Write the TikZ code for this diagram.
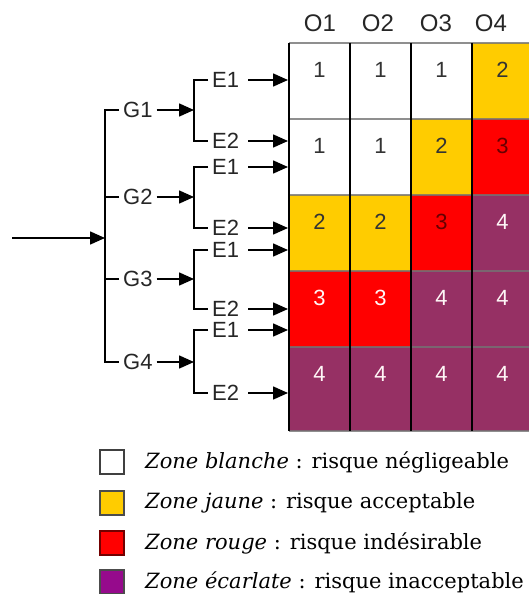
\documentclass[tikz,border=0pt]{standalone}
\usepackage{fontspec}
\newfontfamily\lblfont{Liberation Sans}
\newfontfamily\legfont{DejaVu Serif}
\usetikzlibrary{arrows.meta}

\definecolor{zone1}{RGB}{255,255,255}
\definecolor{zone2}{RGB}{255,204,0}
\definecolor{zone3}{RGB}{255,0,0}
\definecolor{zone4}{RGB}{150,48,100}
\definecolor{zonepurple}{RGB}{150,10,140}

\tikzset{
  lbl/.style={font=\lblfont\fontsize{22}{23}\selectfont,text=black!85,
    inner xsep=4pt,inner ysep=0pt,anchor=west},
  head/.style={font=\lblfont\fontsize{24}{26}\selectfont,text=black!85},
  arr/.style={line width=1.6pt,-{Triangle[length=15pt,width=13pt]}},
  branch/.style={line width=1.6pt},
  num/.style={font=\lblfont\fontsize{22}{24}\selectfont},
  dk/.style={text=black!80},
  dr/.style={text=red!40!black},
  lt/.style={text=white!88!pink},
  hline/.style={line width=2.5pt,black!55,opacity=.8},
  vline/.style={line width=1.8pt,black},
  legbox/.style={minimum size=24pt,inner sep=0pt,line width=1.6pt},
  legtxt/.style={font=\legfont\fontsize{21}{24}\selectfont,anchor=west,inner sep=0pt}
}

\begin{document}
\begin{tikzpicture}[x=1pt,y=-1pt]
  \useasboundingbox (0,0) rectangle (529,594);

  % Risk matrix
  \foreach \row [count=\r] in {{1/dk,1/dk,1/dk,2/dk},{1/dk,1/dk,2/dk,3/dr},
      {2/dk,2/dk,3/dr,4/lt},{3/lt,3/lt,4/lt,4/lt},{4/lt,4/lt,4/lt,4/lt}}{
    \foreach \v/\s [count=\c] in \row {
      \fill[zone\v] ({289+61*(\c-1)},{43+76*(\r-1)}) rectangle ++(61,84);
      \node[num,\s] (n\r\c) at ({319.5+61*(\c-1)},{70+76*(\r-1)}) {\v};
    }
  }
  \foreach \y in {43,119,195,271,347,431}
    \draw[hline] (289,\y) -- (529,\y);
  \foreach \x in {289,350,411,472}
    \draw[vline] (\x,43) -- (\x,431);

  % Column heads
  \foreach \x [count=\c] in {320,378,436,491}
    \node[head] (o\c) at (\x,23) {O\c};

  % Tree
  \coordinate (in) at (12,238);
  \coordinate (trunk) at (105,238);
  \coordinate (gl) at (288,0);
  \draw[arr] (in) -- (trunk);
  \foreach \i/\gy/\ea/\eb in {1/110/80/141,2/197/167/228,3/279/250/309,4/362/330/393}{
    \node[lbl] (g\i) at (119,\gy) {G\i};
    \coordinate (b\i) at (194,\gy);
    \node[lbl] (e\i1) at (208,\ea) {E1};
    \node[lbl] (e\i2) at (208,\eb) {E2};
    \draw[arr] (g\i) -- (b\i);
    \draw[branch] (e\i1.west) -| (b\i) |- (e\i2.west);
    \draw[arr,shorten <=5pt] (e\i1) -- (e\i1 -| gl);
    \draw[arr,shorten <=5pt] (e\i2) -- (e\i2 -| gl);
  }
  \draw[branch] (g1.west) -| (trunk) |- (g4.west);
  \foreach \g in {g2,g3}
    \draw[branch] (\g.west) -- (\g.west -| trunk);

  % Legend
  \foreach \y/\col/\bd/\name/\txt [count=\k] in {462/white/black!75/blanche/négligeable,
      503/zone2/black!70/jaune/acceptable,543/zone3/red!45!black/rouge/indésirable,
      582/zonepurple/black!70/écarlate/inacceptable}{
    \node[legbox,fill=\col,draw=\bd] (box\k) at (112,\y) {};
    \node[legtxt] (leg\k) at (145,\y) {\textit{Zone \name} : risque \txt};
  }
\end{tikzpicture}
\end{document}
